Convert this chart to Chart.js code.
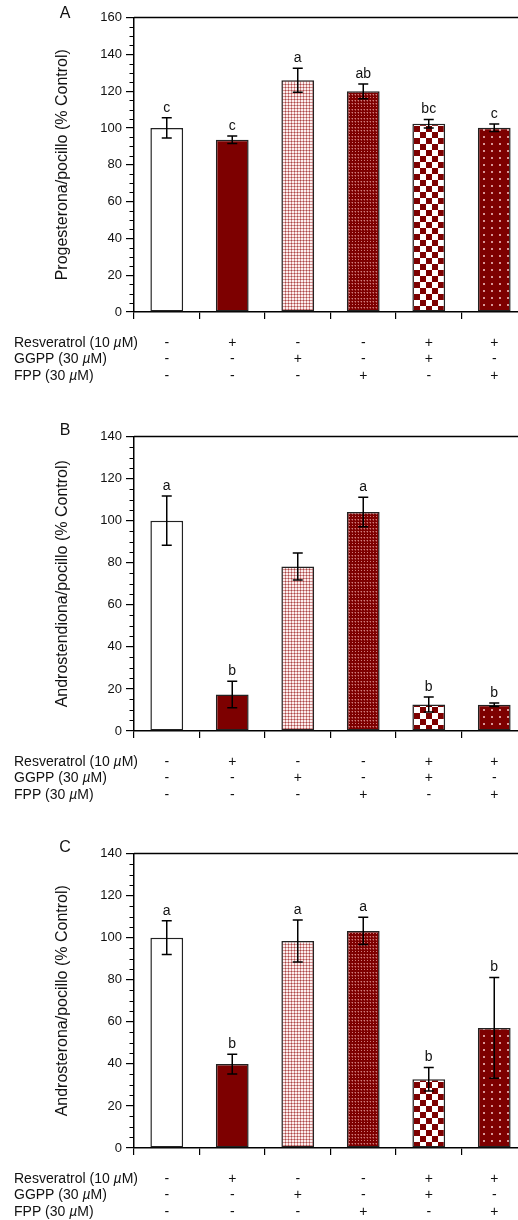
<!DOCTYPE html>
<html>
<head>
<meta charset="utf-8">
<script src="https://cdn.jsdelivr.net/npm/chart.js@4.4.1/dist/chart.umd.min.js"></script>
<style>
  html, body { margin: 0; padding: 0; background: #fff; }
  body { width: 518px; height: 1220px; overflow: hidden; position: relative; }
  .panel { position: absolute; left: 0; width: 540px; height: 400px; }
</style>
</head>
<body>
<div class="panel" style="top:0px"><canvas id="chartA" width="540" height="400"></canvas></div>
<div class="panel" style="top:419.2px"><canvas id="chartB" width="540" height="400"></canvas></div>
<div class="panel" style="top:835.8px"><canvas id="chartC" width="540" height="400"></canvas></div>
<script>
// grupos de tratamiento
var categories = ['Control', 'Resveratrol', 'GGPP', 'FPP', 'Resveratrol + GGPP', 'Resveratrol + FPP'];
var resveratrol = ['-', '+', '-', '-', '+', '+'];
var ggpp = ['-', '-', '+', '-', '+', '-'];
var fpp = ['-', '-', '-', '+', '-', '+'];

// A: progesterona
var progesterona = [100, 93.6, 125.9, 119.9, 102.3, 100.1];
var progesteronaErr = [5.5, 2, 6.5, 4, 2.3, 2];
var progesteronaLetras = ['c', 'c', 'a', 'ab', 'bc', 'c'];

// B: androstendiona
var androstendiona = [100, 17.3, 78.2, 104.1, 12.6, 12.5];
var androstendionaErr = [11.7, 6.3, 6.4, 7, 3.6, 0.8];
var androstendionaLetras = ['a', 'b', '', 'a', 'b', 'b'];

// C: androsterona
var androsterona = [100, 39.9, 98.4, 103.2, 32.7, 57.1];
var androsteronaErr = [8, 4.7, 10, 6.5, 5.6, 24];
var androsteronaLetras = ['a', 'b', 'a', 'a', 'b', 'b'];

var fuente = '"Liberation Sans", Arial, Helvetica, sans-serif';
Chart.defaults.font.family = fuente;
Chart.defaults.color = '#111';

var maroon = '#7d0000';

function crearPatron(w, h, dibujar) {
    var c = document.createElement('canvas');
    c.width = w; c.height = h;
    var g = c.getContext('2d');
    dibujar(g);
    return g.createPattern(c, 'repeat');
}

var rejillaClara = crearPatron(3, 3, function(g) {
    g.fillStyle = '#fbeeee'; g.fillRect(0, 0, 3, 3);
    g.fillStyle = 'rgba(170,50,50,0.5)';
    g.fillRect(0, 0, 3, 1); g.fillRect(0, 1, 1, 2);
    g.fillStyle = 'rgba(130,0,0,0.5)';
    g.fillRect(0, 0, 1, 1);
});
var rejillaOscura = crearPatron(3, 9, function(g) {
    g.fillStyle = maroon; g.fillRect(0, 0, 3, 9);
    g.fillStyle = 'rgba(255,190,190,0.65)';
    g.fillRect(1, 1, 1, 1); g.fillRect(1, 4, 1, 1); g.fillRect(1, 7, 1, 1);
    g.fillStyle = 'rgba(255,190,190,0.3)';
    g.fillRect(0, 1, 1, 1); g.fillRect(0, 4, 1, 1); g.fillRect(1, 2, 1, 1); g.fillRect(1, 5, 1, 1);
});
var ajedrez = crearPatron(12, 12, function(g) {
    g.fillStyle = '#fff'; g.fillRect(0, 0, 12, 12);
    g.fillStyle = maroon;
    g.fillRect(0, 0, 6, 6); g.fillRect(6, 6, 6, 6);
});
var puntos = crearPatron(8, 7, function(g) {
    g.fillStyle = maroon; g.fillRect(0, 0, 8, 7);
    g.fillStyle = 'rgba(255,215,215,0.7)';
    g.fillRect(3, 3, 2, 2);
});

var rellenos = ['#ffffff', maroon, rejillaClara, rejillaOscura, ajedrez, puntos];

// barras de error, letras, tabla de tratamientos
var extrasPlugin = {
    id: 'extras',
    afterDatasetsDraw: function(chart, args, opts) {
        var ctx = chart.ctx;
        var y = chart.scales.y;
        var meta = chart.getDatasetMeta(0);
        var datos = chart.data.datasets[0].data;
        ctx.save();
        ctx.strokeStyle = '#000';
        ctx.lineWidth = 1.5;
        ctx.fillStyle = '#111';
        ctx.font = '14px ' + fuente;
        ctx.textAlign = 'center';
        ctx.textBaseline = 'alphabetic';
        meta.data.forEach(function(bar, i) {
            var arriba = y.getPixelForValue(datos[i] + opts.errores[i]);
            var abajo = y.getPixelForValue(datos[i] - opts.errores[i]);
            ctx.beginPath();
            ctx.moveTo(bar.x, arriba); ctx.lineTo(bar.x, abajo);
            ctx.moveTo(bar.x - 5, arriba); ctx.lineTo(bar.x + 5, arriba);
            ctx.moveTo(bar.x - 5, abajo); ctx.lineTo(bar.x + 5, abajo);
            ctx.stroke();
            if (opts.letras[i]) ctx.fillText(opts.letras[i], bar.x, arriba - 6);
        });
        ctx.restore();
    },
    afterDraw: function(chart, args, opts) {
        var ctx = chart.ctx;
        var area = chart.chartArea;
        var y = chart.scales.y;
        var meta = chart.getDatasetMeta(0);
        ctx.save();
        // marco superior
        ctx.strokeStyle = '#000';
        ctx.lineWidth = 1.5;
        ctx.beginPath();
        ctx.moveTo(area.left, area.top); ctx.lineTo(area.right, area.top);
        ctx.stroke();
        // marcas menores
        ctx.lineWidth = 1;
        ctx.beginPath();
        for (var v = 5; v < y.max; v += 5) {
            if (v % 20 === 0) continue;
            var py = Math.round(y.getPixelForValue(v)) + 0.5;
            ctx.moveTo(area.left - 4.5, py); ctx.lineTo(area.left, py);
        }
        ctx.stroke();
        // letra del panel
        ctx.fillStyle = '#111';
        ctx.font = '16px ' + fuente;
        ctx.textAlign = 'center';
        ctx.textBaseline = 'middle';
        ctx.fillText(opts.panel, 65, opts.panelY);
        // tabla de tratamientos
        var filas = [
            ['Resveratrol (10 ', resveratrol],
            ['GGPP (30 ', ggpp],
            ['FPP (30 ', fpp]
        ];
        filas.forEach(function(fila, r) {
            var fy = area.bottom + 31 + r * 16.6;
            ctx.textAlign = 'left';
            ctx.font = '14px ' + fuente;
            var x = 14;
            ctx.fillText(fila[0], x, fy);
            x += ctx.measureText(fila[0]).width;
            ctx.font = 'italic 14px ' + fuente;
            ctx.fillText('\u00b5', x, fy);
            x += ctx.measureText('\u00b5').width;
            ctx.font = '14px ' + fuente;
            ctx.fillText('M)', x, fy);
            ctx.textAlign = 'center';
            meta.data.forEach(function(bar, i) {
                ctx.fillText(fila[1][i], bar.x, fy);
            });
        });
        ctx.restore();
    }
};

function crearPanel(id, valores, errores, letras, maximo, titulo, panel, panelY) {
    var ctx = document.getElementById(id).getContext('2d');
    return new Chart(ctx, {
        type: 'bar',
        data: {
            labels: categories,
            datasets: [{
                data: valores,
                backgroundColor: rellenos,
                borderColor: '#222',
                borderWidth: 1.5,
                borderSkipped: false,
                categoryPercentage: 1,
                barPercentage: 0.5
            }]
        },
        options: {
            responsive: false,
            animation: false,
            devicePixelRatio: 1,
            layout: { padding: { top: 17.5, right: 13, bottom: 0, left: 0 } },
            plugins: {
                legend: { display: false },
                tooltip: { enabled: false },
                extras: { errores: errores, letras: letras, panel: panel, panelY: panelY }
            },
            scales: {
                x: {
                    offset: true,
                    border: { color: '#000', width: 1.5 },
                    grid: { drawOnChartArea: false, offset: true, tickLength: 7, color: '#000', lineWidth: 1.2 },
                    ticks: { display: false },
                    afterFit: function(s) { s.height = 88; }
                },
                y: {
                    min: 0,
                    max: maximo,
                    border: { color: '#000', width: 1.5 },
                    grid: { drawOnChartArea: false, tickLength: 8, color: '#000', lineWidth: 1.2 },
                    ticks: { stepSize: 20, padding: 4, font: { size: 13 }, color: '#111' },
                    title: {
                        display: true,
                        text: titulo,
                        font: { size: 16 },
                        color: '#111',
                        padding: { top: 53, bottom: 0 }
                    },
                    afterFit: function(s) { s.width = 134; }
                }
            }
        },
        plugins: [extrasPlugin]
    });
}

document.addEventListener('DOMContentLoaded', function() {
    crearPanel('chartA', progesterona, progesteronaErr, progesteronaLetras, 160,
        'Progesterona/pocillo (% Control)', 'A', 14);
    crearPanel('chartB', androstendiona, androstendionaErr, androstendionaLetras, 140,
        'Androstendiona/pocillo (% Control)', 'B', 11.5);
    crearPanel('chartC', androsterona, androsteronaErr, androsteronaLetras, 140,
        'Androsterona/pocillo (% Control)', 'C', 11.2);
});
</script>
</body>
</html>
